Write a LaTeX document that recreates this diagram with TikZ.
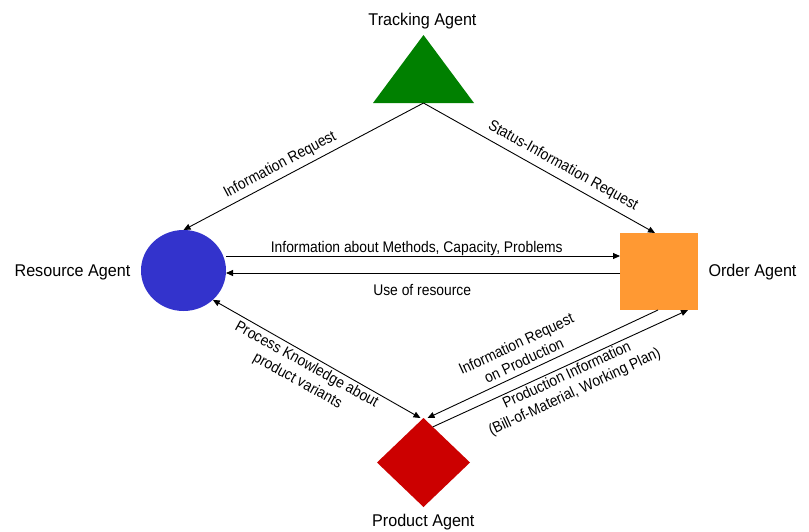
\documentclass[tikz,border=0pt]{standalone}
\usepackage{fontspec}
\setmainfont{Liberation Sans}
\newfontfamily\agentfont[FakeStretch=0.95]{Liberation Sans}
\newfontfamily\msgfont[FakeStretch=0.9]{Liberation Sans}
\usetikzlibrary{arrows.meta,shapes.geometric,calc}
\definecolor{trkgreen}{RGB}{0,128,0}
\definecolor{resblue}{RGB}{51,51,204}
\definecolor{ordorange}{RGB}{255,153,51}
\definecolor{prodred}{RGB}{204,0,0}

\begin{document}
\begin{tikzpicture}[x=1pt,y=-1pt,
  agentlabel/.style={font=\agentfont\fontsize{17}{20}\selectfont, anchor=base, inner sep=0},
  msglabel/.style={font=\msgfont\fontsize{15.4}{18.5}\selectfont, align=center, inner sep=0},
  msg/.style={line width=0.9pt, -{Triangle[length=7pt,width=6pt]}},
  shapebox/.style={inner sep=0, outer sep=0, draw=none}
]
\fill[white] (0,0) rectangle (809,531);
\useasboundingbox (0,0) rectangle (809,531);

% the four agents
\node[shapebox, rectangle, minimum width=101, minimum height=68] (trk) at (423.5,69) {};
\fill[trkgreen] (trk.south west) -- (trk.south east) -- (trk.north) -- cycle;
\node[shapebox, ellipse, fill=resblue, minimum width=85, minimum height=81] (res) at (183.5,270.5) {};
\node[shapebox, rectangle, fill=ordorange, minimum width=78, minimum height=77] (ord) at (659,271.5) {};
\node[shapebox, diamond, fill=prodred, minimum width=93, minimum height=89] (prod) at (423.5,462.5) {};

% agent names
\node[agentlabel] (trkname) at (422.5,25) {Tracking Agent};
\node[agentlabel] (resname) at (72.5,276.7) {Resource Agent};
\node[agentlabel] (ordname) at (752.5,276.7) {Order Agent};
\node[agentlabel] (prodname) at (423.3,526) {Product Agent};

% messages between agents
\draw[msg] (trk.south) -- (res.north);
\draw[msg] (trk.south) -- ([xshift=-4pt]ord.north);
\draw[msg] ([yshift=14.5pt]res.east) -- ([yshift=15.5pt]ord.west);
\draw[msg] ([yshift=-1.5pt]ord.west) -- ([yshift=-2.5pt]res.east);
\draw[msg, {Triangle[length=7pt,width=6pt]}-{Triangle[length=7pt,width=6pt]}] (res.-45) -- ([xshift=-3pt]prod.north);
\draw[msg] ([xshift=-1pt]ord.south) -- ([xshift=4pt]prod.north);
\draw[msg] ($(prod.north)!0.2!(prod.east)$) -- ([xshift=29pt]ord.south);

% message labels
\node[msglabel, rotate=28] (m1) at (280,165) {Information Request};
\node[msglabel, rotate=-29] (m2) at (563,166) {Status-Information Request};
\node[msglabel, anchor=base] (m3) at (416.7,252) {Information about Methods, Capacity, Problems};
\node[msglabel, anchor=base] (m4) at (422.2,295) {Use of resource};
\node[msglabel, rotate=-29] (m5) at (302,373) {Process Knowledge about\\product variants};
\node[msglabel, rotate=25] (m6) at (520,352) {Information Request\\on Production};
\node[msglabel, rotate=25] (m7) at (571,384) {Production Information\\(Bill-of-Material, Working Plan)};
\end{tikzpicture}
\end{document}
